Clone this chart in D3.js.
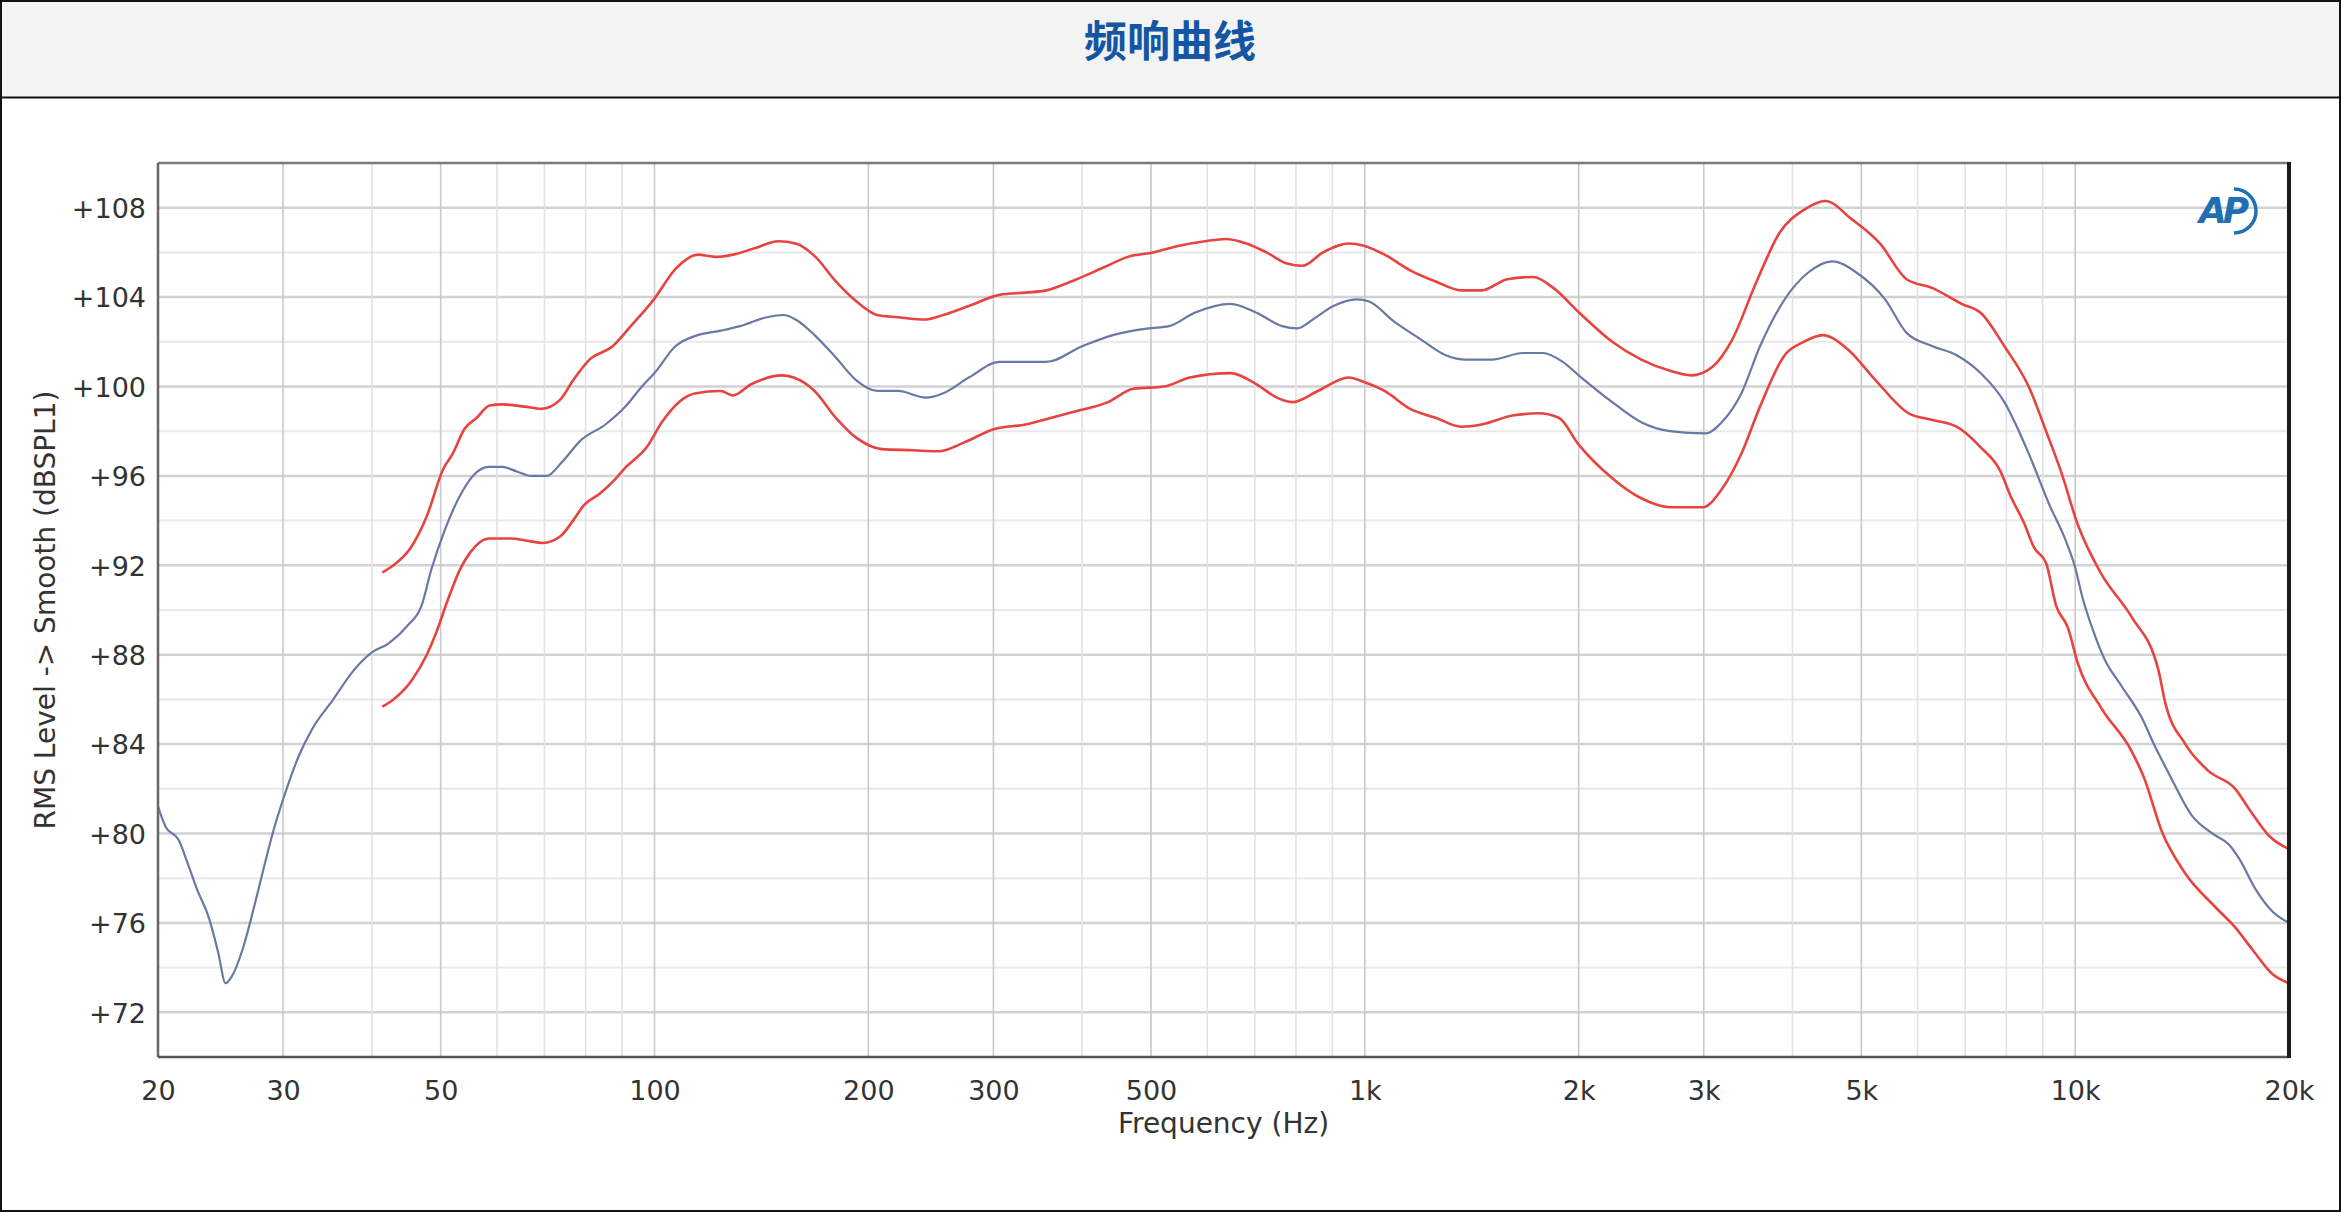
<!DOCTYPE html>
<html>
<head>
<meta charset="utf-8">
<script src="https://cdn.jsdelivr.net/npm/d3@7"></script>
<style>
  html, body { margin: 0; padding: 0; background: #ffffff; }
  svg { display: block; }
</style>
</head>
<body>
<svg id="chart" width="2341" height="1212"></svg>
<script>
// ---------------- data ----------------
const chartTitle = "频响曲线";
const xAxisTitle = "Frequency (Hz)";
const yAxisTitle = "RMS Level -> Smooth (dBSPL1)";

const xTickValues = [20, 30, 50, 100, 200, 300, 500, 1000, 2000, 3000, 5000, 10000, 20000];
const xTickLabels = ["20", "30", "50", "100", "200", "300", "500", "1k", "2k", "3k", "5k", "10k", "20k"];
const yTickValues = [72, 76, 80, 84, 88, 92, 96, 100, 104, 108];
const yTickLabels = ["+72", "+76", "+80", "+84", "+88", "+92", "+96", "+100", "+104", "+108"];

// middle (blue) curve
const freqMid = [20, 20.5, 21.4, 22.0, 22.7, 23.6, 24.3, 24.9, 25.4, 26.3, 27.2, 28.1, 29.0, 30.2, 31.6, 33.0, 35.3, 37.5,
  40.0, 42.2, 44.9, 47.0, 48.5, 50.7, 53.0, 55.5, 58.5, 61.1, 64, 67, 70.5, 74.0, 78.8, 85.3, 91.0, 96, 100,
  107, 115, 124, 132, 144, 152, 158, 168, 180, 192, 206, 220, 241, 255, 277, 306, 356, 400, 442, 496, 530,
  576, 647, 704, 765, 804, 845, 903, 973, 1014, 1100, 1200, 1300, 1390, 1510, 1670, 1780, 1900, 2000, 2230,
  2450, 2690, 3020, 3180, 3390, 3600, 3900, 4210, 4550, 4920, 5400, 5790, 6300, 6810, 7360, 7950, 8550, 9200,
  9700, 10000, 10250, 10540, 11000, 11620, 12400, 12950, 13540, 14600, 15600, 16470, 17000, 17950, 18970, 20000];
const levelMid = [81.2, 80.3, 79.7, 78.7, 77.5, 76.2, 74.7, 73.3, 73.6, 74.8, 76.5, 78.3, 80.0, 81.8, 83.5, 84.7, 86.0, 87.2,
  88.1, 88.5, 89.3, 90.2, 91.8, 93.6, 95.0, 96.0, 96.4, 96.4, 96.2, 96.0, 96.0, 96.6, 97.6, 98.3, 99.1, 100.0, 100.6,
  101.8, 102.3, 102.5, 102.7, 103.1, 103.2, 103.0, 102.3, 101.3, 100.3, 99.8, 99.8, 99.5, 99.7, 100.4, 101.1, 101.1, 101.8, 102.3, 102.6, 102.7,
  103.3, 103.7, 103.3, 102.7, 102.6, 103.0, 103.6, 103.9, 103.8, 102.9, 102.1, 101.4, 101.2, 101.2, 101.5, 101.5, 101.1, 100.5, 99.3,
  98.4, 98.0, 97.9, 98.4, 99.7, 101.8, 103.9, 105.1, 105.6, 105.1, 103.9, 102.4, 101.8, 101.4, 100.6, 99.3, 97.2, 94.7,
  93.1, 91.9, 90.5, 89.3, 87.8, 86.6, 85.2, 83.9, 82.7, 80.8, 80.0, 79.5, 78.9, 77.5, 76.5, 76.0];

// upper (red) curve
const freqUpper = [41.5, 42.9, 45.4, 47.8, 50.4, 52.0, 54.0, 56.2, 58.6, 61.1, 65.6, 69.3, 73.6, 76.9, 81, 87.3, 92.6, 99.8,
  107.3, 115.1, 121.9, 129, 138.7, 149.3, 158, 168.5, 180, 192.5, 205.7, 220, 241, 255, 277, 306, 333, 356, 393, 427,
  464, 504, 548, 596, 637, 681, 727, 777, 817, 873, 949, 997, 1066, 1158, 1258, 1367, 1461, 1587, 1726, 1844, 2004,
  2230, 2450, 2690, 2880, 3090, 3290, 3550, 3840, 4150, 4450, 4840, 5310, 5790, 6300, 6920, 7360, 7950, 8600, 9150,
  9550, 10090, 10890, 12000, 13100, 13380, 14290, 15400, 16800, 17570, 18740, 20000];
const levelUpper = [91.7, 92.0, 92.8, 94.2, 96.3, 97.0, 98.1, 98.6, 99.15, 99.2, 99.1, 99.0, 99.4, 100.3, 101.2, 101.8, 102.7, 103.9,
  105.3, 105.9, 105.8, 105.9, 106.2, 106.5, 106.4, 105.8, 104.7, 103.8, 103.2, 103.1, 103.0, 103.2, 103.6, 104.1, 104.2, 104.3, 104.8, 105.3,
  105.8, 106.0, 106.3, 106.5, 106.6, 106.4, 106.0, 105.5, 105.4, 106.0, 106.4, 106.3, 105.9, 105.2, 104.7, 104.3, 104.3, 104.8, 104.9, 104.4, 103.3,
  102.0, 101.2, 100.7, 100.5, 100.9, 102.1, 104.6, 106.9, 107.9, 108.3, 107.5, 106.4, 104.8, 104.4, 103.7, 103.3, 101.8, 100.0, 97.8,
  96.2, 93.8, 91.6, 89.7, 87.3, 85.9, 84.0, 82.8, 82.0, 81.1, 79.9, 79.3];

// lower (red) curve
const freqLower = [41.5, 42.9, 45.4, 47.8, 49.3, 51.1, 53.3, 55.1, 58.5, 62.8, 66.1, 69.6, 73.7, 76.8, 79.6, 83.7, 87.1, 91.2, 97.6,
  102.4, 108.2, 114.3, 123.9, 128.9, 136.8, 151, 157, 168, 180, 192.5, 209, 231, 251, 273, 301, 333, 362, 393, 435, 472,
  522, 567, 647, 704, 752, 790, 859, 949, 997, 1066, 1158, 1258, 1367, 1461, 1614, 1755, 1875, 2000, 2230, 2450, 2690,
  2990, 3180, 3390, 3600, 3900, 4150, 4410, 4770, 5230, 5830, 6300, 6810, 7350, 7850, 8110, 8470, 8750, 9100, 9400,
  9770, 10090, 10890, 12000, 12500, 13240, 14300, 15760, 16800, 17770, 18970, 20000];
const levelLower = [85.7, 86.0, 86.8, 88.0, 89.0, 90.4, 91.85, 92.6, 93.2, 93.2, 93.1, 93.0, 93.3, 94.0, 94.7, 95.2, 95.7, 96.4, 97.3,
  98.4, 99.3, 99.7, 99.8, 99.6, 100.1, 100.5, 100.4, 99.8, 98.6, 97.7, 97.2, 97.15, 97.1, 97.5, 98.1, 98.3, 98.6, 98.9, 99.3, 99.9,
  100.0, 100.4, 100.6, 100.1, 99.5, 99.3, 99.8, 100.4, 100.2, 99.8, 99.0, 98.6, 98.2, 98.3, 98.7, 98.8, 98.6, 97.4, 95.9, 95.0, 94.6,
  94.6, 95.4, 97.0, 99.1, 101.4, 102.0, 102.3, 101.7, 100.3, 98.8, 98.5, 98.2, 97.3, 96.2, 95.1, 93.9, 92.8, 92.1, 90.2,
  89.2, 87.6, 85.6, 83.7, 82.5, 80.1, 78.2, 76.7, 75.8, 74.8, 73.7, 73.3];

// ---------------- drawing ----------------
const W = 2341, H = 1212;
const plot = { left: 158, right: 2289, top: 163, bottom: 1057 };
const svg = d3.select("#chart");

// outer frame + title band
svg.append("rect").attr("x", 0).attr("y", 0).attr("width", W).attr("height", H).attr("fill", "#ffffff");
svg.append("rect").attr("x", 0).attr("y", 0).attr("width", W).attr("height", 97).attr("fill", "#f3f3f3");
svg.append("line").attr("x1", 0).attr("x2", W).attr("y1", 97.5).attr("y2", 97.5).attr("stroke", "#111").attr("stroke-width", 2);
svg.append("rect").attr("x", 1).attr("y", 1).attr("width", W - 2).attr("height", H - 2)
  .attr("fill", "none").attr("stroke", "#111").attr("stroke-width", 2);

svg.append("text").attr("x", 1170).attr("y", 57).attr("text-anchor", "middle")
  .attr("font-family", "'Noto Sans CJK SC', 'Noto Sans', sans-serif").attr("font-weight", 700)
  .attr("font-size", 43).attr("fill", "#1456a4").text(chartTitle);

const x = d3.scaleLog().domain([20, 20000]).range([plot.left, plot.right]);
const y = d3.scaleLinear().domain([70, 110]).range([plot.bottom, plot.top]);

const grid = svg.append("g");
// horizontal grid lines
const yMinor = d3.range(72, 110, 2);
grid.selectAll("line.h").data(yMinor).enter().append("line")
  .attr("x1", plot.left).attr("x2", plot.right)
  .attr("y1", d => y(d)).attr("y2", d => y(d))
  .attr("stroke", d => (d % 4 === 0 ? "#d2d2d2" : "#e9e9e9"))
  .attr("stroke-width", d => (d % 4 === 0 ? 2.5 : 2));
// vertical grid lines
const xGrid = x.ticks().filter(v => v > 20 && v < 20000);
grid.selectAll("line.v").data(xGrid).enter().append("line")
  .attr("x1", d => x(d)).attr("x2", d => x(d))
  .attr("y1", plot.top).attr("y2", plot.bottom)
  .attr("stroke", d => (xTickValues.includes(d) ? "#c9c9cc" : "#e2e2e4"))
  .attr("stroke-width", 1.6);

// curves
const line = d3.line().x(d => x(d[0])).y(d => y(d[1])).curve(d3.curveMonotoneX);
const series = [
  { f: freqUpper, v: levelUpper, color: "#e8433f", w: 2.6 },
  { f: freqLower, v: levelLower, color: "#e8433f", w: 2.6 },
  { f: freqMid, v: levelMid, color: "#6b78a6", w: 2.2 }
];
const clip = svg.append("clipPath").attr("id", "clip").append("rect")
  .attr("x", plot.left).attr("y", plot.top).attr("width", plot.right - plot.left).attr("height", plot.bottom - plot.top);
svg.append("g").attr("clip-path", "url(#clip)").selectAll("path").data(series).enter().append("path")
  .attr("d", s => line(s.f.map((f, i) => [f, s.v[i]])))
  .attr("fill", "none").attr("stroke", s => s.color).attr("stroke-width", s => s.w)
  .attr("stroke-linejoin", "round").attr("stroke-linecap", "round");

// plot frame
svg.append("line").attr("x1", plot.left).attr("x2", plot.right).attr("y1", plot.top).attr("y2", plot.top)
  .attr("stroke", "#7a7a7a").attr("stroke-width", 2.5);
svg.append("line").attr("x1", plot.left).attr("x2", plot.left).attr("y1", plot.top).attr("y2", plot.bottom)
  .attr("stroke", "#666").attr("stroke-width", 2.5);
svg.append("line").attr("x1", plot.left).attr("x2", plot.right).attr("y1", plot.bottom).attr("y2", plot.bottom)
  .attr("stroke", "#555").attr("stroke-width", 2.5);
svg.append("line").attr("x1", plot.right).attr("x2", plot.right).attr("y1", plot.top - 1).attr("y2", plot.bottom + 1)
  .attr("stroke", "#1a1a1a").attr("stroke-width", 4);

// axes (labels only)
const font = "'DejaVu Sans', sans-serif";
const xAxis = d3.axisBottom(x).tickValues(xTickValues)
  .tickFormat((d, i) => xTickLabels[i]).tickSize(0).tickPadding(0);
const gx = svg.append("g").attr("transform", `translate(0, ${plot.bottom})`).call(xAxis);
gx.select(".domain").remove();
gx.selectAll("text").attr("font-family", font).attr("font-size", 27).attr("fill", "#333")
  .attr("dy", null).attr("y", 43);

const yAxis = d3.axisLeft(y).tickValues(yTickValues)
  .tickFormat((d, i) => yTickLabels[i]).tickSize(0).tickPadding(0);
const gy = svg.append("g").attr("transform", `translate(${plot.left}, 0)`).call(yAxis);
gy.select(".domain").remove();
gy.selectAll("text").attr("font-family", font).attr("font-size", 27).attr("fill", "#333")
  .attr("x", -12).attr("dy", "0.36em");

// axis titles
svg.append("text").attr("x", (plot.left + plot.right) / 2).attr("y", 1133).attr("text-anchor", "middle")
  .attr("font-family", font).attr("font-size", 28).attr("fill", "#333").text(xAxisTitle);
svg.append("text").attr("transform", `translate(55, ${(plot.top + plot.bottom) / 2}) rotate(-90)`)
  .attr("text-anchor", "middle").attr("font-family", font).attr("font-size", 28).attr("fill", "#333")
  .text(yAxisTitle);

// AP logo
const logo = svg.append("g").attr("transform", "translate(2226, 211)");
logo.append("text").attr("x", -4).attr("y", 12).attr("text-anchor", "middle")
  .attr("font-family", "'DejaVu Sans', sans-serif").attr("font-style", "italic").attr("font-weight", 700)
  .attr("font-size", 36).attr("fill", "#1f6fb4").attr("letter-spacing", -4).text("AP");
logo.append("path").attr("d", "M 8 -22 A 22 22 0 0 1 8 22")
  .attr("fill", "none").attr("stroke", "#1f6fb4").attr("stroke-width", 3.5);
</script>
</body>
</html>
